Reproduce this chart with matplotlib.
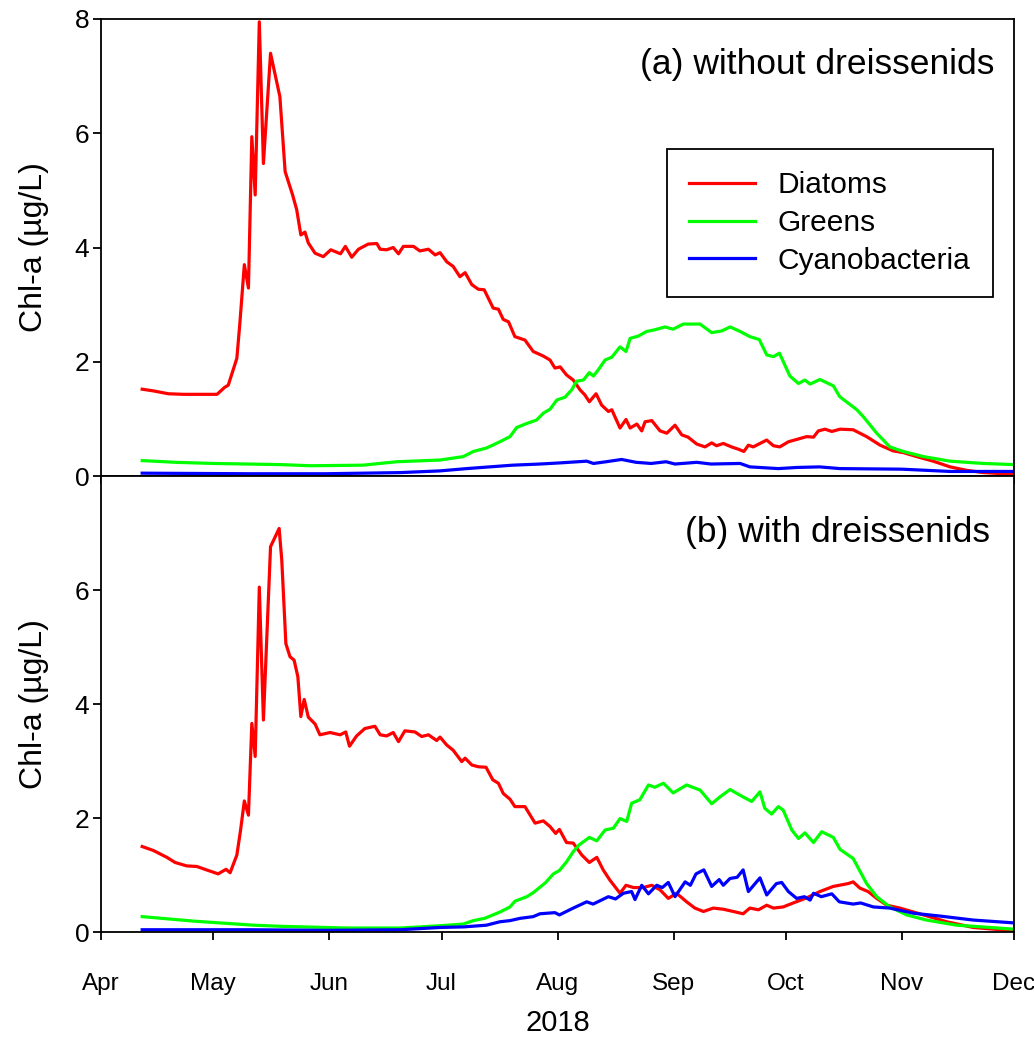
import numpy as np
import pandas as pd
import matplotlib
matplotlib.use("Agg")
import matplotlib.pyplot as plt
import matplotlib.dates as mdates

plt.rcParams['font.family'] = ['Liberation Sans', 'DejaVu Sans']

#### Values: day number counted from 1 April 2018, and Chl-a (ug/L)
# (a) without dreissenids
a_diatom_day = [11, 14, 18, 22, 26, 31, 33, 34, 36.3, 37.1, 38.3, 39.4, 40.3, 41.2, 42.3, 43.4, 45.3, 47.8,
                49.2, 51.2, 52.3, 53.4, 54.5, 55.4, 57.2, 59.4, 61.4, 64, 65.3, 67, 68.8, 71.4, 73.7, 74.6,
                76.3, 78.1, 79.5, 80.8, 83.5, 85.2, 87.5, 89.3, 90.6, 92.4, 94.1, 95.9, 97.3, 99.1, 100.8,
                102.4, 104.8, 106.2, 107.5, 108.9, 110.6, 113.3, 115.5, 118.2, 120, 121.3, 122.7, 124.4,
                126.2, 128, 129.3, 130.5, 132.3, 133.8, 135.6, 136.5, 138.7, 140.3, 141.4, 143.2, 144.5,
                145.4, 147.2, 149.4, 151.2, 153.4, 155.2, 156.9, 159.2, 161.4, 163.2, 164.5, 166.3, 168.5,
                170.3, 171.8, 173, 174.3, 177.9, 179.7, 181.4, 183.7, 185.9, 188.6, 190.4, 191.7, 193.5,
                195.3, 197.5, 201, 204.6, 208.2, 211.7, 214.4, 218, 222.4, 226.9, 231.3, 235.8, 244]
a_diatom_val = [1.52, 1.49, 1.44, 1.43, 1.43, 1.43, 1.55, 1.59, 2.06, 2.67, 3.70, 3.29, 5.94, 4.92, 7.95, 5.47,
                7.40, 6.64, 5.33, 4.92, 4.66, 4.22, 4.27, 4.08, 3.90, 3.84, 3.96, 3.89, 4.02, 3.83, 3.97,
                4.06, 4.07, 3.97, 3.96, 4.00, 3.89, 4.02, 4.02, 3.94, 3.97, 3.87, 3.91, 3.75, 3.67, 3.49,
                3.56, 3.35, 3.27, 3.26, 2.94, 2.92, 2.74, 2.70, 2.44, 2.38, 2.18, 2.10, 2.03, 1.89, 1.91,
                1.77, 1.68, 1.51, 1.42, 1.30, 1.44, 1.24, 1.13, 1.16, 0.84, 0.99, 0.84, 0.91, 0.79, 0.95,
                0.97, 0.79, 0.75, 0.89, 0.72, 0.68, 0.56, 0.51, 0.58, 0.53, 0.57, 0.51, 0.47, 0.43, 0.54,
                0.51, 0.63, 0.53, 0.51, 0.60, 0.64, 0.69, 0.68, 0.79, 0.82, 0.78, 0.82, 0.81, 0.69, 0.54,
                0.44, 0.41, 0.34, 0.26, 0.16, 0.10, 0.06, 0.03]
a_green_day = [11, 20, 30, 48, 56, 70, 79, 90.6, 96.8, 99.5, 103, 106.6, 109.3, 111.1, 113.8, 116.4, 118.2,
               120, 121.8, 124, 125.8, 127.1, 128.9, 130.5, 131.6, 132.9, 134.7, 136.5, 138.7, 140.3,
               141.4, 143.6, 145.8, 148, 150.7, 152.9, 155.6, 160.1, 163.2, 165.9, 168.1, 170.8, 173.4,
               175.9, 177.9, 179.7, 181.3, 184.1, 186.4, 188.1, 189.5, 192.1, 195.7, 197.4, 202, 203.7,
               207.3, 210.8, 214.4, 219.8, 226.9, 235.8, 244]
a_green_val = [0.27, 0.24, 0.22, 0.20, 0.18, 0.19, 0.25, 0.28, 0.34, 0.43, 0.49, 0.60, 0.69, 0.85, 0.92, 0.98,
               1.10, 1.17, 1.33, 1.38, 1.51, 1.66, 1.68, 1.81, 1.75, 1.86, 2.03, 2.08, 2.26, 2.18, 2.41,
               2.45, 2.53, 2.56, 2.61, 2.57, 2.66, 2.66, 2.51, 2.54, 2.61, 2.53, 2.44, 2.39, 2.12, 2.09,
               2.15, 1.75, 1.62, 1.68, 1.61, 1.69, 1.58, 1.39, 1.16, 1.04, 0.75, 0.51, 0.43, 0.34, 0.26,
               0.22, 0.20]
a_cyano_day = [11, 40, 60, 80, 90.6, 97.7, 110, 117.3, 122.7, 129.8, 131.6, 135, 139.1, 143, 147, 151,
               153.4, 159.2, 163, 170.8, 173.4, 181, 186, 192, 197.5, 214, 227, 244]
a_cyano_val = [0.05, 0.04, 0.04, 0.06, 0.09, 0.13, 0.19, 0.21, 0.23, 0.26, 0.22, 0.25, 0.29, 0.24, 0.22,
               0.25, 0.21, 0.24, 0.21, 0.22, 0.16, 0.13, 0.15, 0.16, 0.13, 0.12, 0.08, 0.08]

# (b) with dreissenids
b_diatom_day = [11, 14, 17.6, 19.8, 22.9, 25.6, 28.2, 31.3, 33.4, 34.5, 36.3, 37.3, 38.3, 39.4, 40.3, 41.2,
                42.3, 43.4, 45.3, 47.6, 48.3, 49.4, 50.5, 51.6, 52.6, 53.4, 54.3, 55.4, 57.2, 58.5, 61.2,
                63.9, 65.4, 66.4, 68.3, 70.5, 73.2, 74.6, 76.3, 78.1, 79.5, 81.2, 83.9, 85.7, 87.5, 89.7,
                90.6, 92.4, 94.1, 96.4, 97.3, 99.1, 100.8, 102.9, 104.7, 106.2, 107.5, 109.3, 110.6, 113.3,
                116, 118.2, 120, 121.5, 122.5, 124.4, 126.2, 128.5, 130.5, 132.5, 134.2, 136, 138.7, 140.3,
                142.3, 144.9, 147.2, 149.4, 151.6, 153.8, 156.5, 158.7, 161, 163.6, 166.3, 169, 171.6,
                173.4, 175.7, 177.9, 179.7, 182.3, 185, 188.6, 192.1, 195.7, 199.7, 201, 202.8, 205, 207.3,
                210, 213.5, 219.8, 226, 233.1, 244]
b_diatom_val = [1.50, 1.43, 1.31, 1.22, 1.16, 1.15, 1.09, 1.02, 1.10, 1.04, 1.35, 1.79, 2.30, 2.05, 3.66, 3.08,
                6.05, 3.72, 6.76, 7.08, 6.53, 5.06, 4.83, 4.77, 4.48, 3.78, 4.08, 3.77, 3.65, 3.46, 3.50,
                3.46, 3.51, 3.26, 3.44, 3.57, 3.61, 3.46, 3.44, 3.50, 3.34, 3.53, 3.51, 3.43, 3.46, 3.36,
                3.42, 3.28, 3.19, 2.99, 3.05, 2.93, 2.90, 2.89, 2.67, 2.61, 2.43, 2.33, 2.20, 2.20, 1.91,
                1.95, 1.85, 1.73, 1.80, 1.57, 1.56, 1.35, 1.22, 1.31, 1.09, 0.91, 0.68, 0.82, 0.78, 0.78,
                0.82, 0.74, 0.59, 0.68, 0.53, 0.42, 0.36, 0.42, 0.40, 0.36, 0.32, 0.42, 0.39, 0.47, 0.42,
                0.44, 0.51, 0.60, 0.71, 0.80, 0.85, 0.88, 0.77, 0.71, 0.59, 0.47, 0.42, 0.30, 0.18, 0.08,
                0.02]
b_green_day = [11, 25, 40.7, 48, 66, 80, 90.6, 96.8, 99.5, 102.5, 106.6, 109.3, 110.6, 113.8, 115.5, 118.7,
               120.9, 122.5, 124.4, 126.2, 127.8, 130.5, 132.5, 134.7, 136.9, 138.7, 140.5, 141.8, 144,
               146.3, 148, 150.3, 152.9, 156.5, 160.1, 163.2, 165.4, 168.1, 171.6, 173.9, 176.1, 177.4,
               179.2, 181, 182.3, 184.6, 186.4, 188.1, 190.4, 192.6, 195.7, 197.5, 201, 204.6, 207.3,
               210.8, 215.3, 220.6, 228.7, 244]
b_green_val = [0.27, 0.19, 0.12, 0.10, 0.07, 0.07, 0.11, 0.14, 0.20, 0.24, 0.35, 0.44, 0.54, 0.62, 0.69, 0.86,
               1.02, 1.08, 1.23, 1.41, 1.53, 1.66, 1.60, 1.79, 1.82, 1.99, 1.94, 2.26, 2.32, 2.58, 2.54,
               2.61, 2.44, 2.58, 2.49, 2.25, 2.37, 2.50, 2.37, 2.29, 2.46, 2.17, 2.07, 2.20, 2.14, 1.79,
               1.64, 1.74, 1.57, 1.76, 1.66, 1.45, 1.29, 0.85, 0.62, 0.44, 0.30, 0.21, 0.12, 0.05]
b_cyano_day = [11, 40, 60, 80, 90.6, 97, 103, 106.6, 109.3, 112, 115.5, 117.3, 121.3, 122.5, 126.2, 129.8,
               131.5, 135.6, 137.5, 139.6, 141.8, 142.7, 144.5, 146.3, 148.5, 150, 151.6, 153.4, 156.1,
               157.5, 159, 161.1, 163.2, 165.2, 166.3, 168.1, 170, 171.6, 173, 176.1, 177.9, 180.5, 181.9,
               183.7, 185.9, 188, 189.5, 190.4, 192.5, 195.3, 197.3, 201, 203, 206.4, 210.8, 217.1, 224.2,
               233.1, 244]
b_cyano_val = [0.04, 0.04, 0.03, 0.04, 0.08, 0.09, 0.12, 0.18, 0.20, 0.24, 0.27, 0.32, 0.34, 0.30, 0.42, 0.53,
               0.49, 0.62, 0.58, 0.68, 0.71, 0.57, 0.82, 0.67, 0.82, 0.78, 0.87, 0.62, 0.88, 0.82, 1.02,
               1.09, 0.80, 0.92, 0.82, 0.94, 0.96, 1.09, 0.71, 0.95, 0.65, 0.85, 0.87, 0.71, 0.59, 0.62,
               0.56, 0.68, 0.62, 0.67, 0.53, 0.49, 0.51, 0.44, 0.42, 0.33, 0.28, 0.21, 0.16]

series_names = ['Diatoms', 'Greens', 'Cyanobacteria']
series_colors = ['#ff0000', '#00ff00', '#0000ff']
panel_titles = ['(a) without dreissenids', '(b) with dreissenids']

start = pd.Timestamp('2018-04-01')


def to_dates(days):
    return start + pd.to_timedelta(np.array(days, dtype=float), unit='D')


panels = [
    [(a_diatom_day, a_diatom_val), (a_green_day, a_green_val), (a_cyano_day, a_cyano_val)],
    [(b_diatom_day, b_diatom_val), (b_green_day, b_green_val), (b_cyano_day, b_cyano_val)],
]

fig = plt.figure(figsize=(10.34, 10.38), dpi=100)
ax_a = fig.add_axes([0.0977, 0.5414, 0.8830, 0.4403])
ax_b = fig.add_axes([0.0977, 0.1021, 0.8830, 0.4393], sharex=ax_a)

title_y = [0.9, 0.877]
title_x = [0.979, 0.974]
for i, (ax, data, title) in enumerate(zip([ax_a, ax_b], panels, panel_titles)):
    for (d, v), name, col in zip(data, series_names, series_colors):
        ax.plot(to_dates(d), v, color=col, lw=2.3, label=name)
    ax.set_ylim(0, 8)
    ax.set_xlim(pd.Timestamp('2018-04-01'), pd.Timestamp('2018-12-01'))
    for s in ax.spines.values():
        s.set_linewidth(1.3)
    ax.tick_params(direction='out', length=5.5, width=1.3, labelsize=19, pad=3)
    ax.set_ylabel('Chl-a (µg/L)', fontsize=23)
    ax.yaxis.set_label_coords(-0.057, 0.5)
    ax.text(title_x[i], title_y[i], title, transform=ax.transAxes,
            ha='right', va='center', fontsize=25.5)

ax_a.set_yticks([0, 2, 4, 6, 8])
ax_b.set_yticks([0, 2, 4, 6])
ax_b.xaxis.set_major_locator(mdates.MonthLocator())
ax_b.xaxis.set_major_formatter(mdates.DateFormatter('%b'))
ax_b.tick_params(axis='x', labelsize=17.5, pad=24)
ax_a.tick_params(axis='x', labelbottom=False)
ax_b.set_xlabel('2018', fontsize=21, labelpad=10)

leg = ax_a.legend(loc='upper left', bbox_to_anchor=(0.62, 0.716), fontsize=21.5, frameon=True,
                  fancybox=False, edgecolor='black', framealpha=1, handlelength=2.2,
                  handletextpad=0.75, labelspacing=0.33, borderpad=0.75, borderaxespad=0)
leg.get_frame().set_linewidth(1.3)

fig.savefig('out.png', dpi=100)
